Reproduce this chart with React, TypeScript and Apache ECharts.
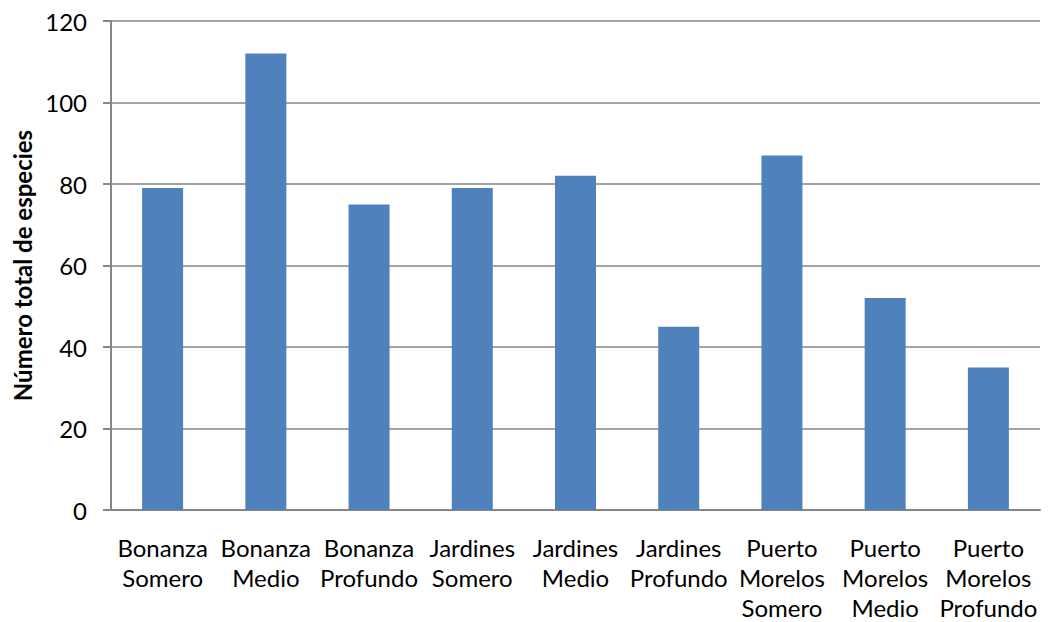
import React, { useEffect, useRef } from "react";
import * as echarts from "echarts";

const categories = [
  "Bonanza\nSomero",
  "Bonanza\nMedio",
  "Bonanza\nProfundo",
  "Jardines\nSomero",
  "Jardines\nMedio",
  "Jardines\nProfundo",
  "Puerto\nMorelos\nSomero",
  "Puerto\nMorelos\nMedio",
  "Puerto\nMorelos\nProfundo",
];
const especies = [79, 112, 75, 79, 82, 45, 87, 52, 35];
const yTitle = "Número total de especies";

const FONT = "Lato, 'Open Sans', sans-serif";

export default function App() {
  const ref = useRef<HTMLDivElement>(null);

  useEffect(() => {
    if (!ref.current) return;
    const chart = echarts.init(ref.current, undefined, { renderer: "svg" });
    chart.setOption({
      animation: false,
      backgroundColor: "#ffffff",
      grid: { left: 111, right: 9, top: 21, bottom: 110 },
      xAxis: {
        type: "category",
        data: categories,
        axisLine: { lineStyle: { color: "#868686", width: 2 } },
        axisTick: { show: false },
        axisLabel: {
          color: "#000",
          fontFamily: FONT,
          fontSize: 24,
          lineHeight: 30,
          margin: 22,
          interval: 0,
          align: "center",
        },
      },
      yAxis: {
        type: "value",
        min: 0,
        max: 120,
        interval: 20,
        name: yTitle,
        nameLocation: "middle",
        nameGap: 72,
        nameTextStyle: {
          color: "#000",
          fontFamily: FONT,
          fontSize: 24,
          fontWeight: "bold",
        },
        axisLine: { show: true, lineStyle: { color: "#868686", width: 2 } },
        axisTick: { show: true, length: 8, lineStyle: { color: "#868686", width: 2 } },
        splitLine: { lineStyle: { color: "#868686", width: 1.5 } },
        axisLabel: {
          color: "#000",
          fontFamily: FONT,
          fontSize: 24,
          margin: 24,
        },
      },
      series: [
        {
          type: "bar",
          data: especies,
          barWidth: 41,
          itemStyle: { color: "#4F81BD" },
        },
      ],
    });
    return () => chart.dispose();
  }, []);

  return (
    <div
      ref={ref}
      style={{ position: "absolute", left: 0, top: 0, width: 1049, height: 622, background: "#fff" }}
    />
  );
}
